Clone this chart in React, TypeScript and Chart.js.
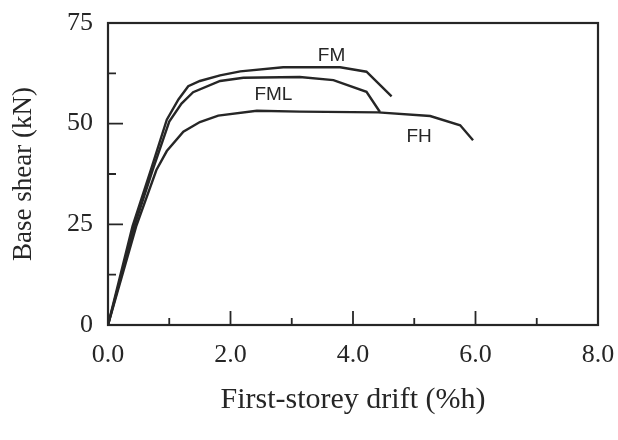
import React, { useEffect, useRef } from "react";
import { Chart, registerables } from "chart.js";

Chart.register(...registerables);

// Pushover curves: first-storey drift (%h) vs base shear (kN)
const fmDrift = [0, 0.4, 0.7, 0.96, 1.15, 1.31, 1.5, 1.83, 2.16, 2.86, 3.79, 4.22, 4.63];
const fmShear = [0, 24.5, 38.5, 51.0, 56.0, 59.3, 60.6, 62.0, 63.0, 64.0, 64.0, 62.9, 56.8];

const fmlDrift = [0, 0.43, 0.73, 1.0, 1.2, 1.39, 1.83, 2.21, 3.13, 3.68, 4.22, 4.44];
const fmlShear = [0, 24.5, 38.5, 50.5, 55.0, 57.8, 60.6, 61.4, 61.6, 60.8, 57.9, 52.9];

const fhDrift = [0, 0.46, 0.79, 0.96, 1.23, 1.5, 1.8, 2.43, 3.13, 4.41, 5.26, 5.75, 5.96];
const fhShear = [0, 24.5, 38.5, 43.2, 48.0, 50.4, 52.0, 53.2, 53.0, 52.8, 51.9, 49.6, 45.9];

// Curve name tags placed in data coordinates
const seriesNames = ["FM", "FML", "FH"];
const tagDrift = [3.65, 2.7, 5.08];
const tagShear = [66.9, 57.3, 46.8];

// Axis ranges and tick marks
const xMin = 0;
const xMax = 8;
const yMin = 0;
const yMax = 75;
const xTickMarks = [1, 2, 3, 4, 5, 6, 7];
const xMajorMarks = [2, 4, 6];
const yTickMarks = [12.5, 25, 37.5, 50, 62.5];
const yMajorMarks = [25, 50];

const INK = "#262626";

const toPoints = (xs: number[], ys: number[]) => xs.map((x, i) => ({ x, y: ys[i] }));

// Keep the plot box fixed: no extra room reserved for overhanging tick labels
const clearScalePadding = (scale: any) => {
  scale.paddingLeft = 0;
  scale.paddingRight = 0;
  scale.paddingTop = 0;
  scale.paddingBottom = 0;
};

const framePlugin = {
  id: "frameAndTicks",
  afterDatasetsDraw(chart: any) {
    const { ctx, chartArea, scales } = chart;
    const { left, right, top, bottom } = chartArea;
    ctx.save();
    ctx.strokeStyle = INK;
    ctx.lineWidth = 2.2;
    ctx.strokeRect(left, top, right - left, bottom - top);

    ctx.lineWidth = 1.8;
    ctx.beginPath();
    xTickMarks.forEach((v) => {
      const px = scales.x.getPixelForValue(v);
      const len = xMajorMarks.includes(v) ? 14 : 7;
      ctx.moveTo(px, bottom);
      ctx.lineTo(px, bottom - len);
    });
    yTickMarks.forEach((v) => {
      const py = scales.y.getPixelForValue(v);
      const len = yMajorMarks.includes(v) ? 15 : 8;
      ctx.moveTo(left, py);
      ctx.lineTo(left + len, py);
    });
    ctx.stroke();

    ctx.fillStyle = INK;
    ctx.font = "19px 'Liberation Sans', Arial, sans-serif";
    ctx.textAlign = "center";
    ctx.textBaseline = "middle";
    seriesNames.forEach((name, i) => {
      ctx.fillText(
        name,
        scales.x.getPixelForValue(tagDrift[i]),
        scales.y.getPixelForValue(tagShear[i])
      );
    });
    ctx.restore();
  },
};

export default function App() {
  const canvasRef = useRef<HTMLCanvasElement | null>(null);

  useEffect(() => {
    if (!canvasRef.current) return;
    const line = (label: string, xs: number[], ys: number[]) => ({
      label,
      data: toPoints(xs, ys),
      borderColor: INK,
      borderWidth: 2.4,
      pointRadius: 0,
      fill: false,
      tension: 0,
    });
    const chart = new Chart(canvasRef.current, {
      type: "line",
      data: {
        datasets: [
          line("FM", fmDrift, fmShear),
          line("FML", fmlDrift, fmlShear),
          line("FH", fhDrift, fhShear),
        ],
      },
      options: {
        animation: false,
        responsive: false,
        devicePixelRatio: 1,
        layout: { padding: { left: 0, right: 20, top: 23, bottom: 0 } },
        plugins: {
          legend: { display: false },
          tooltip: { enabled: false },
        },
        scales: {
          x: {
            type: "linear",
            min: xMin,
            max: xMax,
            border: { display: false },
            grid: { display: false, drawTicks: false },
            ticks: {
              stepSize: 2,
              padding: 15,
              color: INK,
              font: { family: "'Liberation Serif', 'Times New Roman', serif", size: 26 },
              callback: (v: any) => Number(v).toFixed(1),
            },
            title: {
              display: true,
              text: "First-storey drift (%h)",
              color: INK,
              font: { family: "'Liberation Serif', 'Times New Roman', serif", size: 30 },
              padding: { top: 0, bottom: 22 },
            },
            afterFit: (scale: any) => {
              scale.height = 115;
              clearScalePadding(scale);
            },
          },
          y: {
            type: "linear",
            min: yMin,
            max: yMax,
            border: { display: false },
            grid: { display: false, drawTicks: false },
            ticks: {
              stepSize: 25,
              padding: 15,
              color: INK,
              font: { family: "'Liberation Serif', 'Times New Roman', serif", size: 26 },
            },
            title: {
              display: true,
              text: "Base shear (kN)",
              color: INK,
              font: { family: "'Liberation Serif', 'Times New Roman', serif", size: 27 },
              padding: { top: 8, bottom: 0 },
            },
            afterFit: (scale: any) => {
              scale.width = 108;
              clearScalePadding(scale);
            },
          },
        },
      },
      plugins: [framePlugin],
    });
    return () => chart.destroy();
  }, []);

  return (
    <div style={{ position: "absolute", left: 0, top: 0, width: 618, height: 440, background: "#fff" }}>
      <canvas ref={canvasRef} width={618} height={440} style={{ display: "block" }} />
    </div>
  );
}
